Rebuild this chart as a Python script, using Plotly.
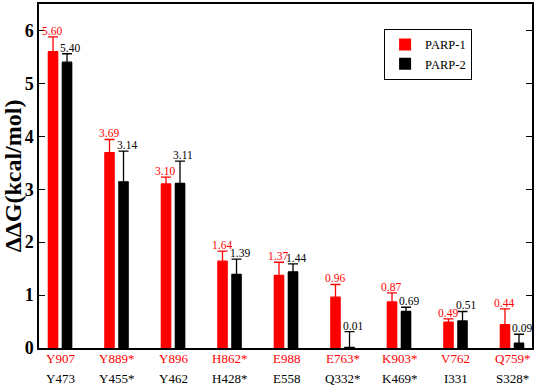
import plotly.graph_objects as go

parp1_res = ["Y907", "Y889*", "Y896", "H862*", "E988", "E763*", "K903*", "V762", "Q759*"]
parp2_res = ["Y473", "Y455*", "Y462", "H428*", "E558", "Q332*", "K469*", "I331", "S328*"]
parp1_val = [5.60, 3.69, 3.10, 1.64, 1.37, 0.96, 0.87, 0.49, 0.44]
parp2_val = [5.40, 3.14, 3.11, 1.39, 1.44, 0.01, 0.69, 0.51, 0.09]
parp1_err = [0.28, 0.25, 0.13, 0.19, 0.25, 0.24, 0.17, 0.06, 0.30]
parp2_err = [0.16, 0.58, 0.42, 0.29, 0.15, 0.30, 0.08, 0.18, 0.17]

x = list(range(len(parp1_res)))
FONT = "Liberation Serif"
BW = 0.188

fig = go.Figure()
fig.add_trace(go.Bar(
    x=x, y=parp1_val, name="PARP-1", marker_color="#ff0000", marker_line_width=0,
    width=BW, offset=-0.218,
    error_y=dict(type="data", array=parp1_err, symmetric=False, arrayminus=[0]*9,
                 color="#ff0000", thickness=1.3, width=5),
))
fig.add_trace(go.Bar(
    x=x, y=parp2_val, name="PARP-2", marker_color="#000000", marker_line_width=0,
    width=BW, offset=0.030,
    error_y=dict(type="data", array=parp2_err, symmetric=False, arrayminus=[0]*9,
                 color="#000000", thickness=1.3, width=5),
))

ann = []
for i in x:
    ann.append(dict(x=i - 0.124, y=parp1_val[i] + parp1_err[i], xref="x", yref="y",
                    text=f"{parp1_val[i]:.2f}", showarrow=False, yanchor="bottom",
                    yshift=-2, xshift=-1, font=dict(family=FONT, size=11.5, color="#ff0000")))
    ann.append(dict(x=i + 0.124, y=parp2_val[i] + parp2_err[i], xref="x", yref="y",
                    text=f"{parp2_val[i]:.2f}", showarrow=False, yanchor="bottom",
                    yshift=-2, xshift=3, font=dict(family=FONT, size=11.5, color="#000000")))
    ann.append(dict(x=i, y=0, xref="x", yref="paper", text=parp1_res[i],
                    showarrow=False, yanchor="middle", yshift=-10,
                    font=dict(family=FONT, size=13, color="#ff0000")))
    ann.append(dict(x=i, y=0, xref="x", yref="paper", text=parp2_res[i],
                    showarrow=False, yanchor="middle", yshift=-30,
                    font=dict(family=FONT, size=13, color="#000000")))

fig.update_layout(
    width=536, height=386,
    margin=dict(l=39, r=4, t=2, b=38),
    plot_bgcolor="white", paper_bgcolor="white",
    font=dict(family=FONT, color="black"),
    barmode="overlay",
    showlegend=True,
    legend=dict(x=0.70, y=0.928, xanchor="left", yanchor="top",
                bordercolor="black", borderwidth=1, bgcolor="white",
                font=dict(family=FONT, size=12.5), tracegroupgap=0,
                itemwidth=30),
    annotations=ann,
    xaxis=dict(range=[-0.372, 8.354], showticklabels=False, ticks="",
               showline=True, linecolor="black", linewidth=1.5, mirror=True,
               showgrid=False, zeroline=False),
    yaxis=dict(range=[0, 6.5], tickvals=[0, 1, 2, 3, 4, 5, 6], ticks="inside",
               ticklen=6, tickwidth=1.3, tickcolor="black",
               showline=True, linecolor="black", linewidth=1.5, mirror="ticks",
               showgrid=False, zeroline=False,
               tickfont=dict(family=FONT, size=18, color="black", weight="bold"),
               title=dict(text="ΔΔG(kcal/mol)", standoff=2,
                          font=dict(family=FONT, size=24, color="black", weight="bold"))),
)

fig.write_html("out.html", config={"displayModeBar": False},
               post_script="document.body.style.margin='0';document.body.style.padding='0';")
